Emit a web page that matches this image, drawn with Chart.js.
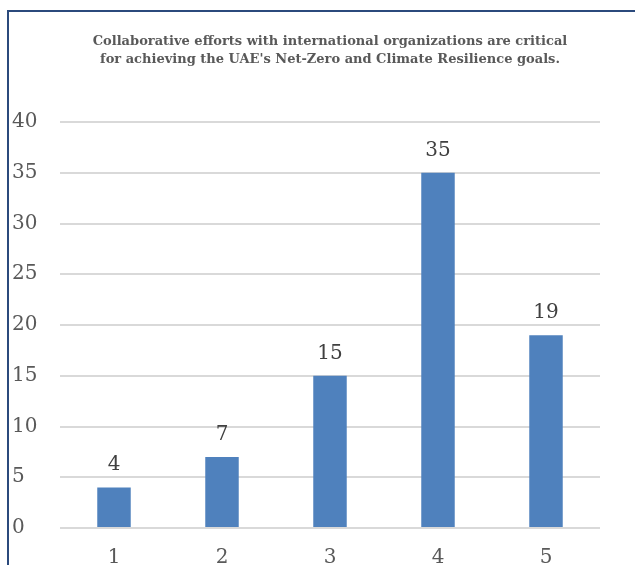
<!DOCTYPE html>
<html>
<head>
<meta charset="utf-8">
<script src="https://cdn.jsdelivr.net/npm/chart.js@4/dist/chart.umd.min.js"></script>
<style>
  html, body { margin: 0; padding: 0; overflow: hidden; background: #ffffff; }
  #wrap { position: relative; width: 635px; height: 565px; overflow: hidden; }
  #frame { position: absolute; left: 7px; top: 10px; width: 700px; height: 700px;
           border-left: 2px solid #2b4a7c; border-top: 2px solid #2b4a7c; box-sizing: border-box; }
  #box { position: absolute; left: 0; top: 0; width: 635px; height: 600px; }
</style>
</head>
<body>
<div id="wrap">
  <div id="frame"></div>
  <div id="box"><canvas id="c"></canvas></div>
</div>
<script>
// Responses on the 1–5 agreement scale
const categories = ['1', '2', '3', '4', '5'];
const counts = [4, 7, 15, 35, 19];
const yTicks = [0, 5, 10, 15, 20, 25, 30, 35, 40];

const titleLines = [
  'Collaborative efforts with international organizations are critical',
  "for achieving the UAE's Net-Zero and Climate Resilience goals."
];

const serif = '"DejaVu Serif", "Liberation Serif", serif';

// Value printed above each bar
const barValues = {
  id: 'barValues',
  afterDatasetsDraw(chart) {
    const ctx = chart.ctx;
    const meta = chart.getDatasetMeta(0);
    ctx.save();
    ctx.font = '20px ' + serif;
    ctx.fillStyle = '#404040';
    ctx.textAlign = 'center';
    ctx.textBaseline = 'alphabetic';
    meta.data.forEach((bar, i) => {
      ctx.fillText(String(chart.data.datasets[0].data[i]), bar.x, bar.y - 17);
    });
    ctx.restore();
  }
};

new Chart(document.getElementById('c'), {
  type: 'bar',
  data: {
    labels: categories,
    datasets: [{
      data: counts,
      backgroundColor: '#4f81bd',
      borderWidth: 0,
      categoryPercentage: 1.0,
      barPercentage: 0.31
    }]
  },
  options: {
    responsive: true,
    maintainAspectRatio: false,
    animation: false,
    layout: { padding: { left: 12, right: 35, top: 0, bottom: 0 } },
    plugins: {
      legend: { display: false },
      tooltip: { enabled: false },
      title: {
        display: true,
        fullSize: false,
        text: titleLines,
        color: '#595959',
        font: { family: '"DejaVu Serif", serif', size: 13, weight: 'bold', lineHeight: 1.385 },
        padding: { top: 33, bottom: 53 }
      }
    },
    scales: {
      x: {
        grid: { display: false, drawTicks: false },
        border: { display: false },
        ticks: { color: '#595959', font: { family: serif, size: 20 }, padding: 18 },
        afterFit(scale) { scale.height = 72; }
      },
      y: {
        min: 0,
        max: 40,
        afterBuildTicks(scale) { scale.ticks = yTicks.map(v => ({ value: v })); },
        grid: { color: '#d9d9d9', lineWidth: 2, drawTicks: false },
        border: { display: false },
        ticks: { color: '#595959', font: { family: serif, size: 20 }, crossAlign: 'far', padding: 8 },
        afterFit(scale) { scale.width = 48; }
      }
    }
  },
  plugins: [barValues]
});
</script>
</body>
</html>
